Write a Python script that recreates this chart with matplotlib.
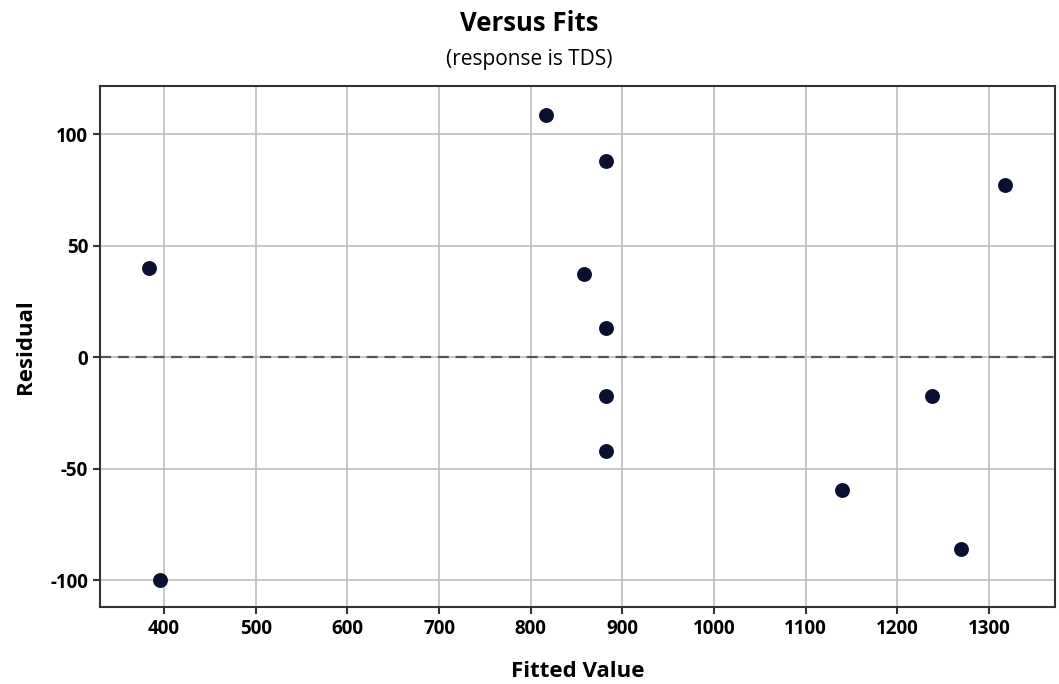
import matplotlib
matplotlib.use("Agg")
import matplotlib.pyplot as plt

# fitted values and residuals
fitted = [384, 396, 817, 858, 882, 882, 882, 882, 1140, 1238, 1270, 1318]
residual = [40, -100, 108.5, 37.5, 88, 13, -17.5, -42, -59.5, -17.5, -85.8, 77]
x_ticks = [400, 500, 600, 700, 800, 900, 1000, 1100, 1200, 1300]
y_ticks = [-100, -50, 0, 50, 100]

plt.rcParams["font.family"] = ["Open Sans", "DejaVu Sans"]
plt.rcParams["axes.unicode_minus"] = False

fig = plt.figure(figsize=(10.59, 6.84), dpi=100)
ax = fig.add_axes([0.0944, 0.1126, 0.9016, 0.7614])

ax.scatter(fitted, residual, s=115, color="#0b0f30", marker="o", zorder=3, linewidths=0)
ax.axhline(0, color="#555555", linestyle=(0, (5, 3)), linewidth=1.6, zorder=2)

ax.set_xlim(330, 1372)
ax.set_ylim(-112, 121.5)
ax.set_xticks(x_ticks)
ax.set_yticks(y_ticks)
ax.grid(True, color="#bdbdbd", linewidth=1.2)
ax.set_axisbelow(True)

for side in ax.spines.values():
    side.set_linewidth(1.5)
    side.set_color("#333333")

ax.tick_params(axis="both", labelsize=13.5, width=1.5, length=5, color="#333333")
for lbl in ax.get_xticklabels() + ax.get_yticklabels():
    lbl.set_fontweight("bold")

ax.set_xlabel("Fitted Value", fontsize=16, fontweight="bold", labelpad=16)
ax.set_ylabel("Residual", fontsize=16, fontweight="bold", labelpad=10)

fig.text(0.5, 0.965, "Versus Fits", ha="center", va="center", fontsize=18.5, fontweight="bold")
fig.text(0.5, 0.913, "(response is TDS)", ha="center", va="center", fontsize=15)

fig.savefig("out.png", dpi=100)
